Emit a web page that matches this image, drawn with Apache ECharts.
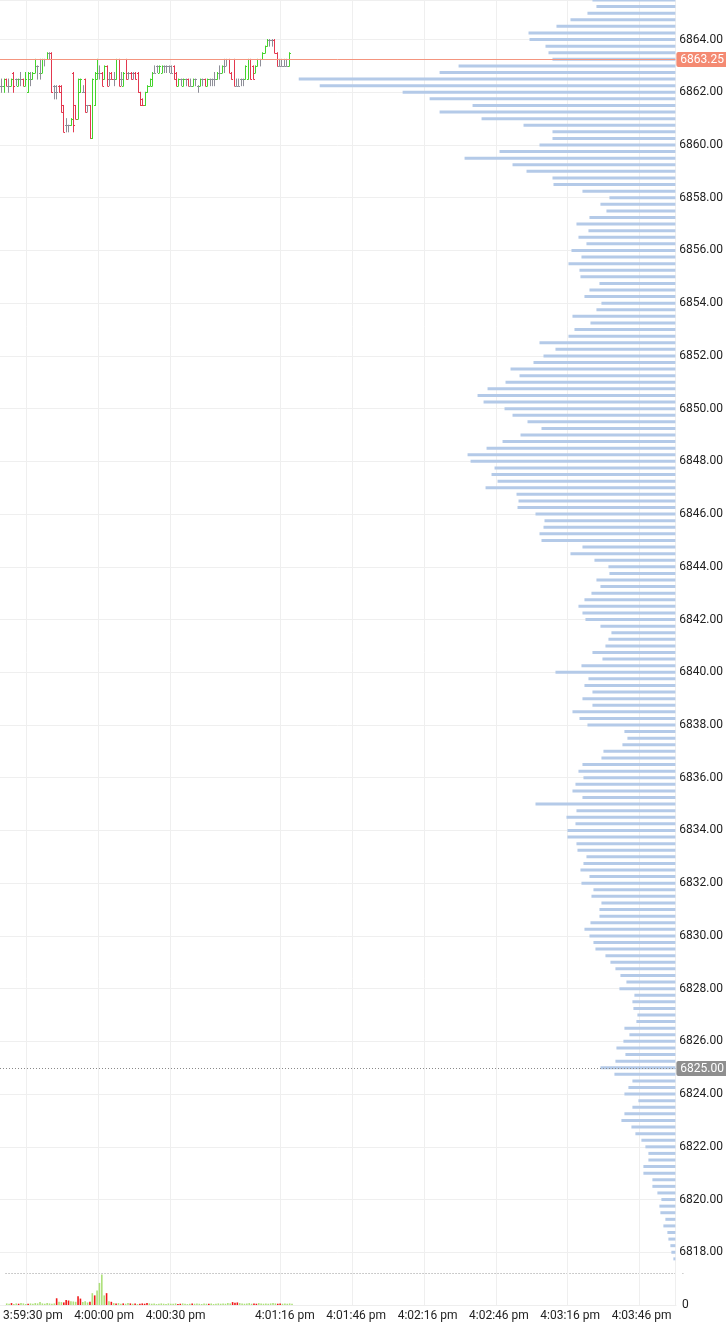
<!DOCTYPE html>
<html><head><meta charset="utf-8">
<script src="https://cdn.jsdelivr.net/npm/echarts@6/dist/echarts.min.js"></script>
<style>html,body{margin:0;padding:0;background:#fff}#c{width:726px;height:1327px}</style>
</head><body><div id="c"></div>
<script>
// ---- time axis (one category per second) ----
const axisStartSec = 15 * 3600 + 59 * 60 + 19; // 3:59:19 pm
const axisSeconds = 282;
const tickLabels = ['3:59:30 pm','4:00:00 pm','4:00:30 pm','4:01:16 pm','4:01:46 pm','4:02:16 pm','4:02:46 pm','4:03:16 pm','4:03:46 pm'];

// ---- price bars [open, close, low, high], one per second from 3:59:19 pm ----
const candles = [
[6862.25,6862.25,6862.0,6862.5],[6862.25,6862.5,6862.0,6862.5],[6862.5,6862.25,6862.25,6862.5],[6862.25,6862.25,6862.0,6862.5],[6862.25,6862.5,6862.25,6862.5],
[6862.75,6862.25,6862.0,6862.75],[6862.5,6862.5,6862.25,6862.5],[6862.25,6862.5,6862.25,6862.5],[6862.5,6862.5,6862.25,6862.75],[6862.5,6862.25,6862.25,6862.5],
[6862.25,6862.5,6862.25,6862.75],[6862.0,6862.75,6862.0,6862.75],[6862.5,6862.5,6862.25,6862.75],[6862.5,6862.75,6862.5,6862.75],[6862.75,6863.0,6862.75,6863.25],
[6863.0,6863.0,6862.5,6863.0],[6862.75,6862.75,6862.5,6863.25],[6862.75,6863.25,6862.75,6863.25],[6863.25,6863.25,6863.0,6863.25],[6863.25,6863.5,6863.25,6863.5],
[6863.5,6863.5,6863.25,6863.5],[6863.5,6862.0,6862.0,6863.5],[6862.25,6862.25,6861.75,6862.25],[6862.0,6862.0,6861.75,6862.25],[6862.25,6862.0,6862.0,6862.25],
[6862.25,6861.25,6861.25,6862.25],[6861.5,6860.5,6860.5,6861.5],[6860.75,6860.75,6860.5,6861.0],[6860.75,6860.75,6860.5,6860.75],[6860.75,6861.0,6860.75,6861.0],
[6862.75,6860.75,6860.5,6862.75],[6861.5,6861.0,6861.0,6861.5],[6861.0,6862.5,6861.0,6862.5],[6862.0,6862.5,6862.0,6862.5],[6862.0,6862.0,6862.0,6862.25],
[6862.5,6861.25,6861.25,6862.5],[6861.5,6861.5,6861.25,6861.5],[6861.5,6860.25,6860.25,6861.5],[6860.25,6862.5,6860.25,6862.5],[6861.5,6862.75,6861.5,6862.75],
[6862.5,6863.25,6862.5,6863.25],[6862.75,6862.75,6862.5,6863.0],[6862.75,6862.25,6862.25,6862.75],[6862.5,6863.0,6862.5,6863.0],[6863.0,6862.25,6862.25,6863.0],
[6862.5,6862.5,6862.25,6862.75],[6862.75,6862.5,6862.5,6862.75],[6862.5,6862.5,6862.25,6862.75],[6862.5,6863.25,6862.5,6863.25],[6863.25,6862.25,6862.25,6863.25],
[6862.5,6862.5,6862.25,6862.75],[6862.25,6862.75,6862.25,6862.75],[6863.25,6862.5,6862.5,6863.25],[6862.75,6862.75,6862.5,6862.75],[6862.75,6862.5,6862.5,6862.75],
[6862.75,6862.75,6862.5,6862.75],[6862.75,6862.5,6862.5,6862.75],[6862.75,6862.0,6862.0,6862.75],[6862.0,6861.5,6861.5,6862.0],[6861.75,6861.5,6861.5,6861.75],
[6861.5,6862.0,6861.5,6862.0],[6862.0,6862.25,6862.0,6862.25],[6862.25,6862.5,6862.25,6862.5],[6862.25,6862.75,6862.25,6862.75],[6862.75,6862.75,6862.75,6863.0],
[6863.0,6863.0,6862.75,6863.0],[6862.75,6863.0,6862.75,6863.0],[6862.75,6863.0,6862.75,6863.0],[6863.0,6863.0,6862.75,6863.0],[6863.0,6863.0,6862.75,6863.0],
[6863.0,6863.0,6862.75,6863.0],[6862.75,6862.75,6862.75,6863.0],[6863.0,6862.5,6862.5,6863.0],[6862.75,6862.25,6862.25,6862.75],[6862.25,6862.5,6862.25,6862.5],
[6862.5,6862.5,6862.25,6862.5],[6862.25,6862.5,6862.25,6862.5],[6862.5,6862.5,6862.25,6862.5],[6862.5,6862.25,6862.25,6862.5],[6862.25,6862.25,6862.25,6862.5],
[6862.25,6862.5,6862.25,6862.5],[6862.5,6862.5,6862.25,6862.5],[6862.25,6862.25,6862.0,6862.25],[6862.25,6862.5,6862.25,6862.5],[6862.5,6862.5,6862.25,6862.5],
[6862.5,6862.25,6862.25,6862.5],[6862.25,6862.5,6862.25,6862.5],[6862.5,6862.5,6862.25,6862.5],[6862.5,6862.5,6862.25,6862.5],[6862.5,6862.5,6862.25,6862.75],
[6862.5,6862.75,6862.5,6862.75],[6862.75,6862.75,6862.5,6863.0],[6862.75,6863.0,6862.75,6863.0],[6863.0,6863.0,6862.75,6863.25],[6863.25,6863.25,6863.0,6863.25],
[6863.25,6862.75,6862.75,6863.25],[6862.75,6862.5,6862.5,6862.75],[6863.25,6862.25,6862.25,6863.25],[6862.25,6862.25,6862.25,6862.5],[6862.25,6862.25,6862.25,6862.5],
[6862.5,6862.5,6862.25,6862.5],[6862.5,6862.5,6862.25,6862.5],[6862.5,6863.0,6862.5,6863.0],[6862.5,6863.25,6862.5,6863.25],[6863.25,6862.5,6862.5,6863.25],
[6863.0,6862.5,6862.5,6863.0],[6862.75,6863.0,6862.75,6863.0],[6863.0,6863.25,6863.0,6863.25],[6863.25,6863.25,6863.0,6863.25],[6863.25,6863.5,6863.25,6863.5],
[6863.5,6863.75,6863.5,6863.75],[6863.75,6864.0,6863.75,6864.0],[6864.0,6864.0,6863.75,6864.0],[6864.0,6864.0,6863.75,6864.0],[6864.0,6863.5,6863.5,6864.0],
[6863.5,6863.0,6863.0,6863.5],[6863.0,6863.0,6863.0,6863.25],[6863.0,6863.0,6863.0,6863.25],[6863.0,6863.0,6863.0,6863.25],[6863.0,6863.0,6863.0,6863.25],
[6863.0,6863.5,6863.0,6863.5]
];

// ---- per-second volume (same seconds as the price bars) ----
const volumes = [
5,4,6,3,5,4,6,5,3,4, 5,4,6,5,9,5,4,6,5,4,
5,21,10,9,8,16,14,12,11,10, 27,20,9,12,8,10,37,30,45,69,
95,30,37,12,10,6,5,6,4,5, 4,6,5,4,5,3,4,5,4,6,
5,4,5,3,4,5,4,3,5,4, 4,5,3,4,5,4,3,4,5,4,
5,4,3,5,4,4,5,3,4,5, 4,5,4,6,5,9,7,8,6,5,
4,5,6,4,5,4,6,5,4,5, 4,5,6,5,4,5,4,5,4,5, 4
];
const volumeMax = 100;

// ---- volume profile: levels every 0.25 from the top level down ----
const profileTop = 6865.5;
const profileStep = 0.25;
const profileVolumes = [
83,79,88,105,119,147,146,130,
127,123,217,236,377,356,273,246,
203,236,194,152,123,123,136,176,
211,163,149,123,122,93,66,75,
69,86,99,87,97,89,104,94,
107,96,95,76,86,91,74,79,
103,85,101,107,136,120,132,142,
165,156,170,188,198,192,171,163,
148,134,155,173,189,208,205,181,
184,178,190,159,157,158,140,131,
132,136,134,93,105,81,67,66,
79,75,84,91,97,93,90,75,
64,67,70,83,73,94,120,87,
91,83,93,83,103,96,88,51,
48,53,72,74,93,97,92,100,
103,93,140,99,109,100,108,108,
99,98,89,92,95,86,94,82,
84,74,76,76,85,91,86,82,
80,70,65,60,55,49,56,41,
43,42,38,39,51,46,52,59,
50,60,75,61,43,47,51,37,
43,51,54,44,40,34,30,27,
27,32,32,23,23,18,14,16,
15,10,12,8,7,5,4,2
];
const profileAxisMax = 676;

// ---- price markers: [price, line colour, badge colour, dashed] ----
const priceMarkers = [
  [6863.25, '#f4957f', '#f48a72', false],
  [6825.00, '#8a8a8a', '#8e8e8e', true]
];

// ---- price axis ----
const priceMin = 6816, priceMax = 6865.5, priceInterval = 2;

// ---------- build ----------
function fmtTime(s) {
  const h = Math.floor(s / 3600), m = Math.floor((s % 3600) / 60), sec = s % 60;
  const hh = h > 12 ? h - 12 : h;
  return hh + ':' + String(m).padStart(2, '0') + ':' + String(sec).padStart(2, '0') + (h >= 12 ? ' pm' : ' am');
}
const times = [];
for (let i = 0; i < axisSeconds; i++) times.push(fmtTime(axisStartSec + i));
const isTick = (i) => tickLabels.indexOf(times[i]) >= 0;

const UP = '#44d42c', DOWN = '#e3384f', DOJI = '#8e8e98';
const VUP = '#ade07a', VDOWN = '#f01818';

const ohlcData = candles.map((c, i) => [i, c[0], c[1], c[2], c[3]]);
const volData = volumes.map((v, i) => ({
  value: v,
  itemStyle: { color: candles[i][1] < candles[i][0] ? VDOWN : VUP }
}));
const profileData = profileVolumes.map((v, i) => [v, profileTop - i * profileStep]);
const markerData = priceMarkers.map((m, i) => [0, m[0], i]);

const font = 'Roboto, "Noto Sans", sans-serif';
const chart = echarts.init(document.getElementById('c'), null, { renderer: 'canvas' });

chart.setOption({
  animation: false,
  backgroundColor: '#ffffff',
  grid: [
    { left: 0, right: 50, top: 0, height: 1305 },
    { left: 0, right: 50, top: 1273, height: 32 }
  ],
  xAxis: [
    { type: 'category', gridIndex: 0, data: times, boundaryGap: true,
      axisLine: { show: false }, axisTick: { show: false }, axisLabel: { show: false },
      splitLine: { show: true, interval: (i) => isTick(i), lineStyle: { color: '#efefef', width: 1 } } },
    { type: 'value', gridIndex: 0, inverse: true, min: 0, max: profileAxisMax, show: false },
    { type: 'category', gridIndex: 1, data: times, boundaryGap: true,
      axisLine: { show: true, lineStyle: { color: '#eeeeee' } }, axisTick: { show: false },
      splitLine: { show: false },
      axisLabel: { show: true, interval: (i) => isTick(i), color: '#222', fontSize: 12, fontFamily: font, margin: 5, hideOverlap: false } }
  ],
  yAxis: [
    { type: 'value', gridIndex: 0, position: 'right', min: priceMin, max: priceMax, interval: priceInterval,
      axisLine: { show: false }, axisTick: { show: false },
      axisLabel: { color: '#222', fontSize: 12, fontFamily: font, margin: 4, showMaxLabel: false,
        formatter: (v) => (v < priceMin + 1 || v > priceMax - 1) ? '' : v.toFixed(2) },
      splitLine: { show: true, lineStyle: { color: '#efefef', width: 1 } } },
    { type: 'value', gridIndex: 1, position: 'right', min: 0, max: volumeMax, interval: volumeMax,
      axisLine: { show: false }, axisTick: { show: false },
      axisLabel: { fontFamily: font, margin: 6,
        formatter: (v) => v === 0 ? '{z|0}' : '{d|-}',
        rich: { z: { color: '#222', fontSize: 12, fontFamily: font }, d: { color: '#999', fontSize: 6, fontFamily: font } } },
      splitLine: { show: true, lineStyle: { color: '#9a9a9a', type: [1, 2], width: 1 } } }
  ],
  series: [
    { type: 'custom', name: 'profile', xAxisIndex: 1, yAxisIndex: 0, z: 1, clip: false,
      data: profileData,
      renderItem: function (params, api) {
        const a = api.coord([api.value(0), api.value(1)]);
        const b = api.coord([0, api.value(1)]);
        return { type: 'rect', shape: { x: a[0], y: a[1] - 1.5, width: b[0] - a[0], height: 3 },
          style: { fill: '#b4cae8' } };
      } },
    { type: 'custom', name: 'price', xAxisIndex: 0, yAxisIndex: 0, z: 3,
      data: ohlcData,
      renderItem: function (params, api) {
        const i = api.value(0), o = api.value(1), c = api.value(2), l = api.value(3), h = api.value(4);
        const po = api.coord([i, o]), pc = api.coord([i, c]), pl = api.coord([i, l]), ph = api.coord([i, h]);
        const x = Math.round(po[0]) + 0.5;
        const col = c > o ? UP : (c < o ? DOWN : DOJI);
        const st = { stroke: col, lineWidth: 1 };
        return { type: 'group', children: [
          { type: 'line', shape: { x1: x, y1: pl[1] + 0.5, x2: x, y2: ph[1] - 0.5 }, style: st },
          { type: 'line', shape: { x1: x - 1.5, y1: Math.round(po[1]) + 0.5, x2: x, y2: Math.round(po[1]) + 0.5 }, style: st },
          { type: 'line', shape: { x1: x, y1: Math.round(pc[1]) + 0.5, x2: x + 1.5, y2: Math.round(pc[1]) + 0.5 }, style: st }
        ] };
      } },
    { type: 'custom', name: 'markers', xAxisIndex: 1, yAxisIndex: 0, z: 6, silent: true, clip: false,
      data: markerData,
      renderItem: function (params, api) {
        const m = priceMarkers[api.value(2)];
        const cs = params.coordSys;
        const y = Math.round(api.coord([0, api.value(1)])[1]) + 0.5;
        const right = cs.x + cs.width;
        const label = m[0].toFixed(2);
        return { type: 'group', children: [
          { type: 'line', shape: { x1: cs.x, y1: y, x2: right, y2: y },
            style: { stroke: m[1], lineWidth: 1, lineDash: m[3] ? [1, 2] : null } },
          { type: 'text', x: right + 1, y: y,
            style: { text: label, fill: '#fff', backgroundColor: m[2], padding: [2, 4, 1, 4], borderRadius: 2,
              font: '12px ' + font, verticalAlign: 'middle', align: 'left' } }
        ] };
      } },
    { type: 'bar', name: 'volume', xAxisIndex: 2, yAxisIndex: 1, data: volData, barWidth: 1.6, z: 2 }
  ]
});
</script></body></html>
